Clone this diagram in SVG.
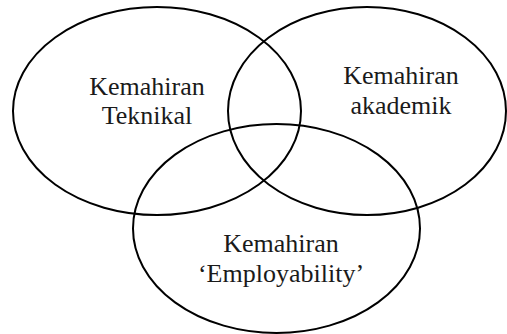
<svg xmlns="http://www.w3.org/2000/svg" width="507" height="334" viewBox="0 0 507 334">
<style>
.set{fill:none;stroke:#000;stroke-width:2}
.lbl{font-family:"Liberation Serif","Times New Roman",serif;font-size:26px;fill:#1a1a1a;text-anchor:middle}
</style>
<rect width="507" height="334" fill="#fff"/>
<g id="connectors"></g>
<g id="teknikal">
<ellipse class="set" cx="157" cy="111" rx="144" ry="104"/>
<text class="lbl" x="147" y="95">Kemahiran</text>
<text class="lbl" x="147" y="124">Teknikal</text>
</g>
<g id="akademik">
<ellipse class="set" cx="367" cy="111" rx="139" ry="104"/>
<text class="lbl" x="401" y="84">Kemahiran</text>
<text class="lbl" x="401" y="114">akademik</text>
</g>
<g id="employability">
<ellipse class="set" cx="276.5" cy="228.5" rx="143.5" ry="104.5"/>
<text class="lbl" x="281" y="252">Kemahiran</text>
<text class="lbl" x="281" y="282">‘Employability’</text>
</g>
</svg>
